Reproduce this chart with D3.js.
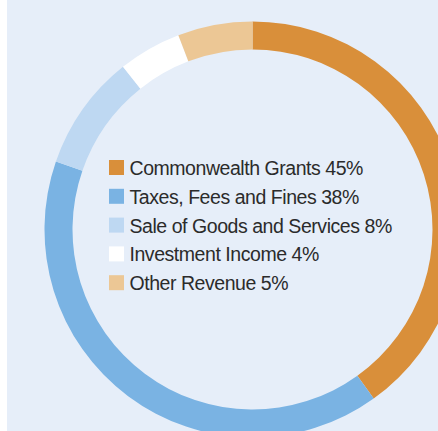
<!DOCTYPE html>
<html>
<head>
<meta charset="utf-8">
<script src="https://cdn.jsdelivr.net/npm/d3@7"></script>
<style>
  html, body { margin: 0; padding: 0; background: #ffffff; }
  svg { display: block; }
</style>
</head>
<body>
<div id="container"></div>
<script>
// Revenue categories, legend percentages and drawn arc shares
const categories = ["Commonwealth Grants", "Taxes, Fees and Fines", "Sale of Goods and Services", "Investment Income", "Other Revenue"];
const legendPct = [45, 38, 8, 4, 5];
const shares = [40.1, 40.2, 9.0, 4.9, 5.8];
const colors = ["#d98f3a", "#7ab3e3", "#bed8f2", "#ffffff", "#ecc795"];

const width = 438,
  height = 431;

const svg = d3.select("div#container")
  .append("svg")
  .attr("width", width)
  .attr("height", height);

// panel background
svg.append("rect")
  .attr("x", 7)
  .attr("y", 0)
  .attr("width", width - 7)
  .attr("height", height)
  .attr("fill", "#e6eef9");

const data = categories.map((c, i) => ({ name: c, pct: legendPct[i], value: shares[i], color: colors[i] }));

const pie = d3.pie().sort(null).value((d) => d.value);
const arc = d3.arc().innerRadius(180).outerRadius(208);

const g = svg.append("g")
  .attr("transform", "translate(252.5,229.5)");

g.selectAll("path")
  .data(pie(data))
  .enter()
  .append("path")
  .attr("d", arc)
  .attr("fill", (d) => d.data.color);

// Legend
const rowY = d3.scaleLinear().domain([0, 1]).range([175, 203.8]);

const legend = svg.append("g");
const rows = legend.selectAll("g")
  .data(data)
  .enter()
  .append("g")
  .attr("transform", (d, i) => `translate(109,${rowY(i)})`);

rows.append("rect")
  .attr("x", 0)
  .attr("y", -15)
  .attr("width", 15)
  .attr("height", 15)
  .attr("fill", (d) => d.color);

rows.append("text")
  .attr("x", 20.5)
  .attr("y", 0)
  .attr("font-family", "Liberation Sans, Arial, sans-serif")
  .attr("font-size", 19.5)
  .attr("letter-spacing", -0.45)
  .attr("fill", "#2b2b2b")
  .text((d) => `${d.name} ${d.pct}%`);
</script>
</body>
</html>
